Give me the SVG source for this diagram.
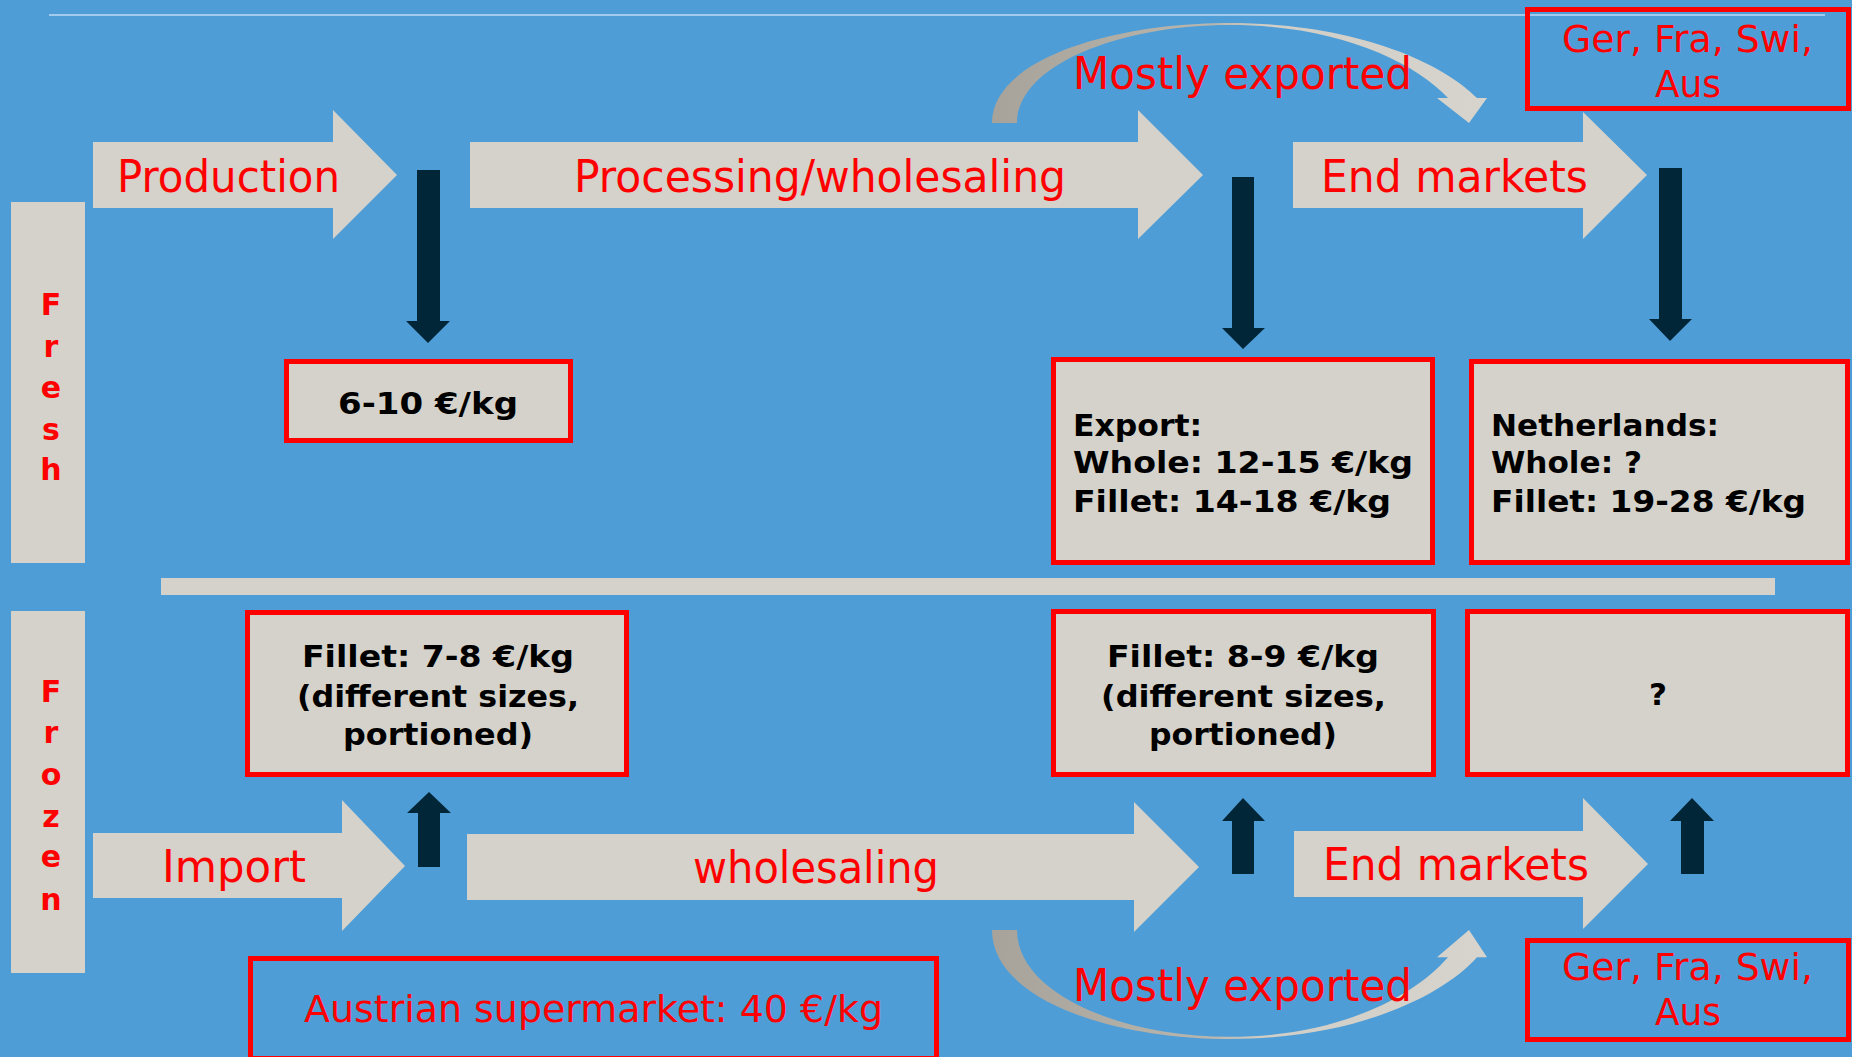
<svg xmlns="http://www.w3.org/2000/svg" width="1852" height="1057" viewBox="0 0 1852 1057">
<defs>
<style>
.bg{fill:#4f9dd6}
.flow{fill:#d4d2ca}
.dark{fill:#012638}
.box{fill:#d4d2ca;stroke:#ff0000;stroke-width:5}
.obox{fill:none;stroke:#ff0000;stroke-width:5}
.lbl{font-family:"DejaVu Sans","Liberation Sans",sans-serif;fill:#ff0000;font-size:44px}
.mid{font-family:"DejaVu Sans","Liberation Sans",sans-serif;fill:#ff0000;font-size:38px}
.val{font-family:"DejaVu Sans","Liberation Sans",sans-serif;font-weight:bold;fill:#000;font-size:31px}
.side{font-family:"DejaVu Sans","Liberation Sans",sans-serif;font-weight:bold;fill:#ff0000;font-size:30px;text-anchor:middle}
</style>
<linearGradient id="arcg" x1="992" y1="0" x2="1487" y2="0" gradientUnits="userSpaceOnUse">
<stop offset="0" stop-color="#a7a39b"/>
<stop offset="0.45" stop-color="#b9b6ae"/>
<stop offset="0.55" stop-color="#d0cec6"/>
<stop offset="1" stop-color="#d6d4cc"/>
</linearGradient>
<path id="arc" d="M992,123 C992,60 1110,23 1230,23 C1350,23 1440,60 1477,98 L1487,98 L1469,123 L1437,98 L1448,98 C1412,60 1335,25 1230,25 C1120,25 1017,65 1017,123 Z"/>
</defs>
<rect class="bg" x="0" y="0" width="1852" height="1057"/>

<g id="fresh-label">
<rect class="flow" x="11" y="202" width="74" height="361"/>
<text class="side" x="51" y="315">F</text>
<text class="side" x="51" y="357">r</text>
<text class="side" x="51" y="398">e</text>
<text class="side" x="51" y="440">s</text>
<text class="side" x="51" y="480">h</text>
</g>
<g id="frozen-label">
<rect class="flow" x="11" y="611" width="74" height="362"/>
<text class="side" x="51" y="702">F</text>
<text class="side" x="51" y="743">r</text>
<text class="side" x="51" y="785">o</text>
<text class="side" x="51" y="827">z</text>
<text class="side" x="51" y="867">e</text>
<text class="side" x="51" y="910">n</text>
</g>

<rect id="divider" class="flow" x="161" y="578" width="1614" height="17"/>

<g id="production">
<polygon class="flow" points="93,142 333,142 333,110 397,175 333,239 333,208 93,208"/>
<text class="lbl" x="117" y="192" textLength="223" lengthAdjust="spacingAndGlyphs">Production</text>
</g>
<g id="processing">
<polygon class="flow" points="470,142 1138,142 1138,110 1203,175 1138,239 1138,208 470,208"/>
<text class="lbl" x="574" y="192" textLength="492" lengthAdjust="spacingAndGlyphs">Processing/wholesaling</text>
</g>
<g id="end-markets-fresh">
<polygon class="flow" points="1293,142 1583,142 1583,112 1647,175 1583,239 1583,208 1293,208"/>
<text class="lbl" x="1321" y="192" textLength="267" lengthAdjust="spacingAndGlyphs">End markets</text>
</g>
<g id="import">
<polygon class="flow" points="93,833 342,833 342,800 405,866 342,931 342,898 93,898"/>
<text class="lbl" x="162" y="882" textLength="144" lengthAdjust="spacingAndGlyphs">Import</text>
</g>
<g id="wholesaling">
<polygon class="flow" points="467,834 1134,834 1134,802 1199,867 1134,932 1134,900 467,900"/>
<text class="lbl" x="693" y="883" textLength="246" lengthAdjust="spacingAndGlyphs">wholesaling</text>
</g>
<g id="end-markets-frozen">
<polygon class="flow" points="1294,831 1583,831 1583,798 1648,864 1583,929 1583,897 1294,897"/>
<text class="lbl" x="1323" y="880" textLength="266" lengthAdjust="spacingAndGlyphs">End markets</text>
</g>

<g id="export-arc-top">
<use href="#arc" fill="url(#arcg)"/>
<text class="lbl" x="1073" y="89" font-size="41" textLength="339" lengthAdjust="spacingAndGlyphs">Mostly exported</text>
</g>
<g id="export-arc-bottom">
<use href="#arc" fill="url(#arcg)" transform="translate(0,1064.1) scale(1,-1.09)"/>
<text class="lbl" x="1073" y="1001" font-size="41" textLength="339" lengthAdjust="spacingAndGlyphs">Mostly exported</text>
</g>

<line x1="49" y1="15" x2="1825" y2="15" stroke="#a3caec" stroke-width="2"/>

<g id="countries-top">
<rect class="obox" x="1527.5" y="9.5" width="321" height="99"/>
<text class="mid" x="1562" y="52" textLength="251" lengthAdjust="spacingAndGlyphs">Ger, Fra, Swi,</text>
<text class="mid" x="1655" y="97" textLength="66" lengthAdjust="spacingAndGlyphs">Aus</text>
</g>
<g id="countries-bottom">
<rect class="obox" x="1527.5" y="940.5" width="321" height="99"/>
<text class="mid" x="1562" y="980" textLength="251" lengthAdjust="spacingAndGlyphs">Ger, Fra, Swi,</text>
<text class="mid" x="1655" y="1025" textLength="66" lengthAdjust="spacingAndGlyphs">Aus</text>
</g>
<g id="austrian-supermarket">
<rect class="obox" x="250.5" y="958.5" width="686" height="100"/>
<text class="mid" x="304" y="1022" textLength="579" lengthAdjust="spacingAndGlyphs">Austrian supermarket: 40 €/kg</text>
</g>

<g id="price-production">
<rect class="box" x="286.5" y="361.5" width="284" height="79"/>
<text class="val" x="338" y="414" textLength="180" lengthAdjust="spacingAndGlyphs">6-10 €/kg</text>
</g>
<g id="price-export">
<rect class="box" x="1053.5" y="359.5" width="379" height="203"/>
<text class="val" x="1073" y="436" textLength="129" lengthAdjust="spacingAndGlyphs">Export:</text>
<text class="val" x="1073" y="473" textLength="340" lengthAdjust="spacingAndGlyphs">Whole: 12-15 €/kg</text>
<text class="val" x="1073" y="512" textLength="318" lengthAdjust="spacingAndGlyphs">Fillet: 14-18 €/kg</text>
</g>
<g id="price-netherlands">
<rect class="box" x="1471.5" y="361.5" width="376" height="201"/>
<text class="val" x="1491" y="436" textLength="228" lengthAdjust="spacingAndGlyphs">Netherlands:</text>
<text class="val" x="1491" y="473" textLength="151" lengthAdjust="spacingAndGlyphs">Whole: ?</text>
<text class="val" x="1491" y="512" textLength="315" lengthAdjust="spacingAndGlyphs">Fillet: 19-28 €/kg</text>
</g>
<g id="price-import">
<rect class="box" x="247.5" y="612.5" width="379" height="162"/>
<text class="val" x="302" y="667" textLength="272" lengthAdjust="spacingAndGlyphs">Fillet: 7-8 €/kg</text>
<text class="val" x="297" y="707" textLength="282" lengthAdjust="spacingAndGlyphs">(different sizes,</text>
<text class="val" x="343" y="745" textLength="190" lengthAdjust="spacingAndGlyphs">portioned)</text>
</g>
<g id="price-wholesale">
<rect class="box" x="1053.5" y="611.5" width="380" height="163"/>
<text class="val" x="1107" y="667" textLength="272" lengthAdjust="spacingAndGlyphs">Fillet: 8-9 €/kg</text>
<text class="val" x="1101" y="707" textLength="285" lengthAdjust="spacingAndGlyphs">(different sizes,</text>
<text class="val" x="1149" y="745" textLength="188" lengthAdjust="spacingAndGlyphs">portioned)</text>
</g>
<g id="price-endmarket-frozen">
<rect class="box" x="1467.5" y="611.5" width="380" height="163"/>
<text class="val" x="1658" y="705" text-anchor="middle">?</text>
</g>

<g id="connectors">
<polygon class="dark" points="417,170 440,170 440,321 450,321 428,343 406,321 417,321"/>
<polygon class="dark" points="1232,177 1254,177 1254,328 1265,328 1243,349 1222,328 1232,328"/>
<polygon class="dark" points="1659,168 1682,168 1682,319 1692,319 1670,341 1649,319 1659,319"/>
<polygon class="dark" points="418,867 440,867 440,813 451,813 429,792 407,813 418,813"/>
<polygon class="dark" points="1232,874 1254,874 1254,821 1265,821 1243,798 1222,821 1232,821"/>
<polygon class="dark" points="1681,874 1704,874 1704,821 1714,821 1692,798 1670,821 1681,821"/>
</g>
</svg>
